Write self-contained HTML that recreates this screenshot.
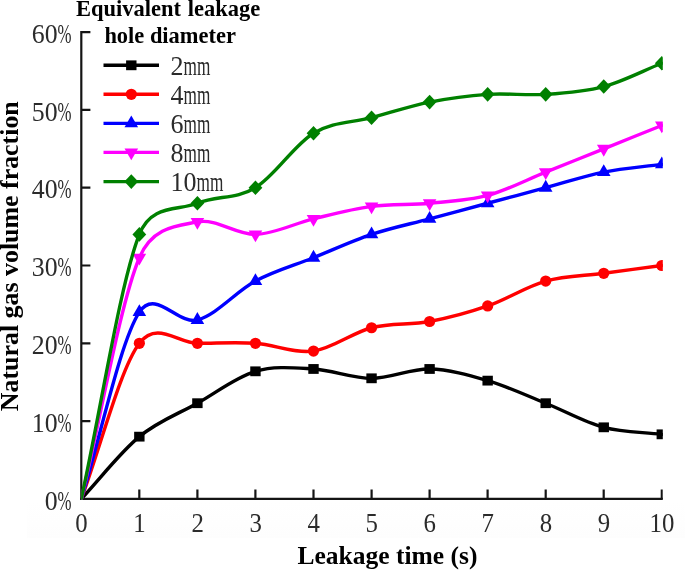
<!DOCTYPE html>
<html lang="en"><head><meta charset="utf-8"><title>Natural gas volume fraction vs leakage time</title>
<style>
html,body{margin:0;padding:0;background:#fff;}
body{width:685px;height:570px;overflow:hidden;}
svg{display:block}
text{font-family:"Liberation Serif","DejaVu Serif",serif;fill:#2b2b2b}
.b{font-weight:bold;fill:#000}
.t{font-size:27.5px}
.l{font-size:27px}
</style></head><body>
<svg style="filter:blur(0.45px)" width="685" height="570" viewBox="0 0 685 570">
<rect width="685" height="570" fill="#ffffff"/>
<rect x="27" y="500" width="658" height="38" fill="url(#bg)"/>
<defs><linearGradient id="bg" x1="0" y1="0" x2="0" y2="1"><stop offset="0" stop-color="#ffffff"/><stop offset="0.6" stop-color="#fefefe"/><stop offset="1" stop-color="#fdfdfd"/></linearGradient><clipPath id="cp"><rect x="0" y="0" width="662.8" height="570"/></clipPath><clipPath id="cq"><rect x="81.1" y="0" width="700" height="499.8"/></clipPath></defs>

<g clip-path="url(#cp)">
<g stroke="#141414" stroke-width="2.2" fill="none">
<path d="M81.3 31.1 V499.9"/>
<path d="M80.3 498.9 H664.8"/>
<path d="M139.3 498.9 v-9.3"/>
<path d="M197.4 498.9 v-9.3"/>
<path d="M255.4 498.9 v-9.3"/>
<path d="M313.5 498.9 v-9.3"/>
<path d="M371.6 498.9 v-9.3"/>
<path d="M429.6 498.9 v-9.3"/>
<path d="M487.6 498.9 v-9.3"/>
<path d="M545.7 498.9 v-9.3"/>
<path d="M603.7 498.9 v-9.3"/>
<path d="M661.8 498.9 v-9.3"/>
<path d="M81.3 421.1 h9.1"/>
<path d="M81.3 343.3 h9.1"/>
<path d="M81.3 265.5 h9.1"/>
<path d="M81.3 187.7 h9.1"/>
<path d="M81.3 109.9 h9.1"/>
<path d="M81.3 32.1 h9.1"/>
</g>
<path d="M81.30 498.90 C100.65 478.15 120.00 452.61 139.35 436.66 C158.70 420.71 178.05 414.10 197.40 403.21 C216.75 392.31 236.10 377.01 255.45 371.31 C274.80 365.60 294.15 367.81 313.50 368.97 C332.85 370.14 352.20 378.31 371.55 378.31 C390.90 378.31 410.25 368.58 429.60 368.97 C448.95 369.36 468.30 374.94 487.65 380.64 C507.00 386.35 526.35 395.43 545.70 403.21 C565.05 410.99 584.40 422.14 603.75 427.32 C623.10 432.51 642.45 431.99 661.80 434.33" stroke="#000000" fill="none" stroke-width="3.4" stroke-linejoin="round" stroke-linecap="round" clip-path="url(#cq)"/>
<rect x="134.15" y="431.76" width="10.40" height="9.80" fill="#000000"/>
<rect x="192.20" y="398.31" width="10.40" height="9.80" fill="#000000"/>
<rect x="250.25" y="366.41" width="10.40" height="9.80" fill="#000000"/>
<rect x="308.30" y="364.07" width="10.40" height="9.80" fill="#000000"/>
<rect x="366.35" y="373.41" width="10.40" height="9.80" fill="#000000"/>
<rect x="424.40" y="364.07" width="10.40" height="9.80" fill="#000000"/>
<rect x="482.45" y="375.74" width="10.40" height="9.80" fill="#000000"/>
<rect x="540.50" y="398.31" width="10.40" height="9.80" fill="#000000"/>
<rect x="598.55" y="422.42" width="10.40" height="9.80" fill="#000000"/>
<rect x="656.60" y="429.43" width="10.40" height="9.80" fill="#000000"/>
<path d="M81.30 498.90 C100.65 447.03 120.00 369.23 139.35 343.30 C156.71 320.04 178.05 343.30 197.40 343.30 C216.75 343.30 236.10 342.00 255.45 343.30 C274.80 344.60 294.15 353.67 313.50 351.08 C332.85 348.49 352.20 332.67 371.55 327.74 C390.90 322.81 410.25 325.15 429.60 321.52 C448.95 317.89 468.30 312.70 487.65 305.96 C507.00 299.21 526.35 286.51 545.70 281.06 C565.05 275.61 584.40 275.87 603.75 273.28 C623.10 270.69 642.45 268.09 661.80 265.50" stroke="#ff0000" fill="none" stroke-width="3.4" stroke-linejoin="round" stroke-linecap="round" clip-path="url(#cq)"/>
<circle cx="139.35" cy="343.30" r="5.6" fill="#ff0000"/>
<circle cx="197.40" cy="343.30" r="5.6" fill="#ff0000"/>
<circle cx="255.45" cy="343.30" r="5.6" fill="#ff0000"/>
<circle cx="313.50" cy="351.08" r="5.6" fill="#ff0000"/>
<circle cx="371.55" cy="327.74" r="5.6" fill="#ff0000"/>
<circle cx="429.60" cy="321.52" r="5.6" fill="#ff0000"/>
<circle cx="487.65" cy="305.96" r="5.6" fill="#ff0000"/>
<circle cx="545.70" cy="281.06" r="5.6" fill="#ff0000"/>
<circle cx="603.75" cy="273.28" r="5.6" fill="#ff0000"/>
<circle cx="661.80" cy="265.50" r="5.6" fill="#ff0000"/>
<path d="M81.30 498.90 C100.65 436.66 120.00 342.00 139.35 312.18 C155.29 287.61 178.05 325.15 197.40 319.96 C216.75 314.77 236.10 291.43 255.45 281.06 C274.80 270.69 294.15 265.50 313.50 257.72 C332.85 249.94 352.20 240.86 371.55 234.38 C390.90 227.90 410.25 224.01 429.60 218.82 C448.95 213.63 468.30 208.45 487.65 203.26 C507.00 198.07 526.35 192.89 545.70 187.70 C565.05 182.51 584.40 176.03 603.75 172.14 C623.10 168.25 642.45 166.95 661.80 164.36" stroke="#0000ff" fill="none" stroke-width="3.4" stroke-linejoin="round" stroke-linecap="round" clip-path="url(#cq)"/>
<path d="M139.35 304.33 L146.15 316.11 L132.55 316.11 Z" fill="#0000ff"/>
<path d="M197.40 312.11 L204.20 323.89 L190.60 323.89 Z" fill="#0000ff"/>
<path d="M255.45 273.21 L262.25 284.99 L248.65 284.99 Z" fill="#0000ff"/>
<path d="M313.50 249.87 L320.30 261.65 L306.70 261.65 Z" fill="#0000ff"/>
<path d="M371.55 226.53 L378.35 238.31 L364.75 238.31 Z" fill="#0000ff"/>
<path d="M429.60 210.97 L436.40 222.75 L422.80 222.75 Z" fill="#0000ff"/>
<path d="M487.65 195.41 L494.45 207.19 L480.85 207.19 Z" fill="#0000ff"/>
<path d="M545.70 179.85 L552.50 191.63 L538.90 191.63 Z" fill="#0000ff"/>
<path d="M603.75 164.29 L610.55 176.07 L596.95 176.07 Z" fill="#0000ff"/>
<path d="M661.80 156.51 L668.60 168.29 L655.00 168.29 Z" fill="#0000ff"/>
<path d="M81.30 498.90 C100.65 418.51 120.00 303.88 139.35 257.72 C152.53 226.27 178.05 225.82 197.40 221.93 C216.75 218.04 236.10 234.90 255.45 234.38 C274.80 233.86 294.15 223.49 313.50 218.82 C332.85 214.15 352.20 208.97 371.55 206.37 C390.90 203.78 410.25 205.08 429.60 203.26 C448.95 201.44 468.30 200.67 487.65 195.48 C507.00 190.29 526.35 179.92 545.70 172.14 C565.05 164.36 584.40 156.58 603.75 148.80 C623.10 141.02 642.45 133.24 661.80 125.46" stroke="#ff00ff" fill="none" stroke-width="3.4" stroke-linejoin="round" stroke-linecap="round" clip-path="url(#cq)"/>
<path d="M139.35 265.57 L146.15 253.79 L132.55 253.79 Z" fill="#ff00ff"/>
<path d="M197.40 229.78 L204.20 218.01 L190.60 218.01 Z" fill="#ff00ff"/>
<path d="M255.45 242.23 L262.25 230.45 L248.65 230.45 Z" fill="#ff00ff"/>
<path d="M313.50 226.67 L320.30 214.89 L306.70 214.89 Z" fill="#ff00ff"/>
<path d="M371.55 214.22 L378.35 202.45 L364.75 202.45 Z" fill="#ff00ff"/>
<path d="M429.60 211.11 L436.40 199.33 L422.80 199.33 Z" fill="#ff00ff"/>
<path d="M487.65 203.33 L494.45 191.55 L480.85 191.55 Z" fill="#ff00ff"/>
<path d="M545.70 179.99 L552.50 168.21 L538.90 168.21 Z" fill="#ff00ff"/>
<path d="M603.75 156.65 L610.55 144.87 L596.95 144.87 Z" fill="#ff00ff"/>
<path d="M661.80 133.31 L668.60 121.53 L655.00 121.53 Z" fill="#ff00ff"/>
<path d="M81.30 498.90 C100.65 410.73 120.00 283.65 139.35 234.38 C151.39 203.73 178.05 211.04 197.40 203.26 C216.75 195.48 236.10 199.37 255.45 187.70 C274.80 176.03 294.15 144.91 313.50 133.24 C332.85 121.57 352.20 122.87 371.55 117.68 C390.90 112.49 410.25 106.01 429.60 102.12 C448.95 98.23 468.30 95.64 487.65 94.34 C507.00 93.04 526.35 95.64 545.70 94.34 C565.05 93.04 584.40 91.75 603.75 86.56 C623.10 81.37 642.45 71.00 661.80 63.22" stroke="#008000" fill="none" stroke-width="3.4" stroke-linejoin="round" stroke-linecap="round" clip-path="url(#cq)"/>
<path d="M139.35 227.08 L146.25 234.38 L139.35 241.68 L132.45 234.38 Z" fill="#008000"/>
<path d="M197.40 195.96 L204.30 203.26 L197.40 210.56 L190.50 203.26 Z" fill="#008000"/>
<path d="M255.45 180.40 L262.35 187.70 L255.45 195.00 L248.55 187.70 Z" fill="#008000"/>
<path d="M313.50 125.94 L320.40 133.24 L313.50 140.54 L306.60 133.24 Z" fill="#008000"/>
<path d="M371.55 110.38 L378.45 117.68 L371.55 124.98 L364.65 117.68 Z" fill="#008000"/>
<path d="M429.60 94.82 L436.50 102.12 L429.60 109.42 L422.70 102.12 Z" fill="#008000"/>
<path d="M487.65 87.04 L494.55 94.34 L487.65 101.64 L480.75 94.34 Z" fill="#008000"/>
<path d="M545.70 87.04 L552.60 94.34 L545.70 101.64 L538.80 94.34 Z" fill="#008000"/>
<path d="M603.75 79.26 L610.65 86.56 L603.75 93.86 L596.85 86.56 Z" fill="#008000"/>
<path d="M661.80 55.92 L668.70 63.22 L661.80 70.52 L654.90 63.22 Z" fill="#008000"/>
</g>
<text class="l" x="75.3" y="531.7"><tspan textLength="12.4" lengthAdjust="spacingAndGlyphs">0</tspan></text>
<text class="l" x="133.3" y="531.7"><tspan textLength="12.4" lengthAdjust="spacingAndGlyphs">1</tspan></text>
<text class="l" x="191.4" y="531.7"><tspan textLength="12.4" lengthAdjust="spacingAndGlyphs">2</tspan></text>
<text class="l" x="249.4" y="531.7"><tspan textLength="12.4" lengthAdjust="spacingAndGlyphs">3</tspan></text>
<text class="l" x="307.5" y="531.7"><tspan textLength="12.4" lengthAdjust="spacingAndGlyphs">4</tspan></text>
<text class="l" x="365.6" y="531.7"><tspan textLength="12.4" lengthAdjust="spacingAndGlyphs">5</tspan></text>
<text class="l" x="423.6" y="531.7"><tspan textLength="12.4" lengthAdjust="spacingAndGlyphs">6</tspan></text>
<text class="l" x="481.6" y="531.7"><tspan textLength="12.4" lengthAdjust="spacingAndGlyphs">7</tspan></text>
<text class="l" x="539.7" y="531.7"><tspan textLength="12.4" lengthAdjust="spacingAndGlyphs">8</tspan></text>
<text class="l" x="597.7" y="531.7"><tspan textLength="12.4" lengthAdjust="spacingAndGlyphs">9</tspan></text>
<text class="l" x="649.6" y="531.7"><tspan textLength="24.8" lengthAdjust="spacingAndGlyphs">10</tspan></text>
<text class="t" x="44.7" y="509.6"><tspan textLength="12.9" lengthAdjust="spacingAndGlyphs">0</tspan><tspan textLength="14.0" lengthAdjust="spacingAndGlyphs">%</tspan></text>
<text class="t" x="31.8" y="431.8"><tspan textLength="25.8" lengthAdjust="spacingAndGlyphs">10</tspan><tspan textLength="14.0" lengthAdjust="spacingAndGlyphs">%</tspan></text>
<text class="t" x="31.8" y="354.0"><tspan textLength="25.8" lengthAdjust="spacingAndGlyphs">20</tspan><tspan textLength="14.0" lengthAdjust="spacingAndGlyphs">%</tspan></text>
<text class="t" x="31.8" y="276.2"><tspan textLength="25.8" lengthAdjust="spacingAndGlyphs">30</tspan><tspan textLength="14.0" lengthAdjust="spacingAndGlyphs">%</tspan></text>
<text class="t" x="31.8" y="198.4"><tspan textLength="25.8" lengthAdjust="spacingAndGlyphs">40</tspan><tspan textLength="14.0" lengthAdjust="spacingAndGlyphs">%</tspan></text>
<text class="t" x="31.8" y="120.6"><tspan textLength="25.8" lengthAdjust="spacingAndGlyphs">50</tspan><tspan textLength="14.0" lengthAdjust="spacingAndGlyphs">%</tspan></text>
<text class="t" x="31.8" y="42.8"><tspan textLength="25.8" lengthAdjust="spacingAndGlyphs">60</tspan><tspan textLength="14.0" lengthAdjust="spacingAndGlyphs">%</tspan></text>
<path d="M103.5 65.3 H159" stroke="#000000" stroke-width="3.4" fill="none"/>
<rect x="126.10" y="60.40" width="10.40" height="9.80" fill="#000000"/>
<text class="l" x="170.6" y="74.6"><tspan textLength="13.0" lengthAdjust="spacingAndGlyphs">2</tspan><tspan textLength="26.8" lengthAdjust="spacingAndGlyphs">mm</tspan></text>
<path d="M103.5 94.3 H159" stroke="#ff0000" stroke-width="3.4" fill="none"/>
<circle cx="131.30" cy="94.30" r="5.6" fill="#ff0000"/>
<text class="l" x="170.6" y="103.6"><tspan textLength="13.0" lengthAdjust="spacingAndGlyphs">4</tspan><tspan textLength="26.8" lengthAdjust="spacingAndGlyphs">mm</tspan></text>
<path d="M103.5 123.4 H159" stroke="#0000ff" stroke-width="3.4" fill="none"/>
<path d="M131.30 115.55 L138.10 127.33 L124.50 127.33 Z" fill="#0000ff"/>
<text class="l" x="170.6" y="132.7"><tspan textLength="13.0" lengthAdjust="spacingAndGlyphs">6</tspan><tspan textLength="26.8" lengthAdjust="spacingAndGlyphs">mm</tspan></text>
<path d="M103.5 152.4 H159" stroke="#ff00ff" stroke-width="3.4" fill="none"/>
<path d="M131.30 160.25 L138.10 148.47 L124.50 148.47 Z" fill="#ff00ff"/>
<text class="l" x="170.6" y="161.7"><tspan textLength="13.0" lengthAdjust="spacingAndGlyphs">8</tspan><tspan textLength="26.8" lengthAdjust="spacingAndGlyphs">mm</tspan></text>
<path d="M103.5 181.6 H159" stroke="#008000" stroke-width="3.4" fill="none"/>
<path d="M131.30 174.30 L138.20 181.60 L131.30 188.90 L124.40 181.60 Z" fill="#008000"/>
<text class="l" x="170.6" y="190.9"><tspan textLength="26.0" lengthAdjust="spacingAndGlyphs">10</tspan><tspan textLength="26.8" lengthAdjust="spacingAndGlyphs">mm</tspan></text>
<text class="b" x="76" y="16" font-size="22.5" word-spacing="1.2">Equivalent leakage</text>
<text class="b" x="104.4" y="42.9" font-size="22.45">hole diameter</text>
<text class="b" x="297.5" y="563.5" font-size="25.5">Leakage time (s)</text>
<text class="b" transform="translate(17.8 411.2) rotate(-90)" font-size="25.9">Natural gas volume fraction</text>
</svg></body></html>
